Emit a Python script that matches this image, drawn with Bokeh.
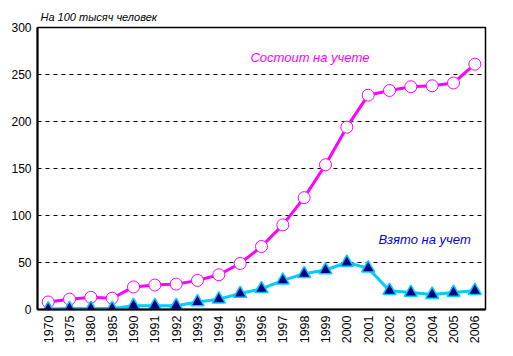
from bokeh.plotting import figure
from bokeh.models import Label, Range1d, FixedTicker
from bokeh.embed import file_html
from bokeh.resources import INLINE

years = ["1970", "1975", "1980", "1985", "1990", "1991", "1992", "1993", "1994",
         "1995", "1996", "1997", "1998", "1999", "2000", "2001", "2002", "2003",
         "2004", "2005", "2006"]
registered = [8, 11, 13, 12, 24, 26, 27, 31, 37, 49, 67, 90, 119, 154, 194, 228,
              233, 237, 238, 241, 261]
new_cases = [0.5, 1, 1, 1, 4, 4, 4, 8, 11, 17, 22, 31, 38, 42, 50, 44, 20, 18,
             16, 18, 20]
y_ticks = [0, 50, 100, 150, 200, 250, 300]
label_registered = "Состоит на учете"
label_new = "Взято на учет"
units_text = "На 100 тысяч человек"

FONT = "Liberation Sans"

p = figure(x_range=years, y_range=Range1d(0, 300), width=505, height=348,
           output_backend="svg", toolbar_location=None,
           min_border_left=37, min_border_right=20, min_border_top=27,
           min_border_bottom=39)
p.background_fill_color = "white"
p.border_fill_color = "white"
p.outline_line_color = "black"
p.outline_line_width = 1.5

p.title.text = units_text
p.title.align = "left"
p.title.offset = 3
p.title.standoff = 10
p.title.text_font = FONT
p.title.text_font_style = "italic"
p.title.text_font_size = "11px"
p.title.text_color = "black"

p.xgrid.grid_line_color = None
p.ygrid.grid_line_color = "black"
p.ygrid.grid_line_dash = "4 4"
p.ygrid.grid_line_width = 1

p.yaxis.ticker = FixedTicker(ticks=y_ticks)
for ax in (p.xaxis[0], p.yaxis[0]):
    ax.axis_line_color = "black"
    ax.axis_line_width = 2
    ax.major_tick_line_color = None
    ax.minor_tick_line_color = None
    ax.major_tick_out = 0
    ax.major_tick_in = 0
    ax.major_label_text_font = FONT
    ax.major_label_text_color = "black"
    ax.major_label_text_font_size = "12px"
p.yaxis.major_label_standoff = 6
p.xaxis.major_label_standoff = 6
p.xaxis.major_label_orientation = 1.5708
p.xaxis.major_label_text_font_size = "12.5px"

p.line(years, registered, line_color="#FF00FF", line_width=3)
p.scatter(years, registered, marker="circle", size=12, fill_color="white",
          line_color="#FF00FF", line_width=1)

p.line(years, new_cases, line_color="#00CCFF", line_width=3)
p.scatter(years, new_cases, marker="triangle", size=13, fill_color="#000080",
          line_color="#00CCFF", line_width=1.5)

p.add_layout(Label(x=9.98, y=268, text=label_registered, text_color="#FF00FF",
                   text_font=FONT, text_font_style="italic",
                   text_font_size="13px", text_baseline="middle"))
p.add_layout(Label(x=15.98, y=74, text=label_new, text_color="#0000FF",
                   text_font=FONT, text_font_style="italic",
                   text_font_size="13px", text_baseline="middle"))

open("out.html", "w").write(file_html(p, INLINE))
